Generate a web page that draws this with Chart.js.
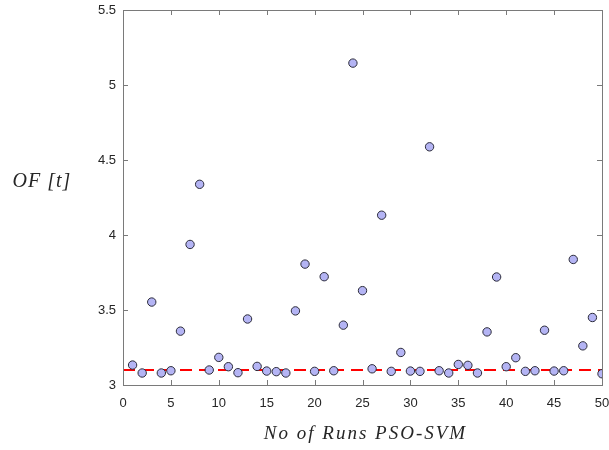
<!DOCTYPE html>
<html>
<head>
<meta charset="utf-8">
<script src="https://cdn.jsdelivr.net/npm/chart.js@4/dist/chart.umd.min.js"></script>
<style>
  html, body { margin: 0; padding: 0; background: #fff; }
  #wrap { width: 609px; height: 450px; }
</style>
</head>
<body>
<div id="wrap"><canvas id="chart" width="609" height="450"></canvas></div>
<script>
/* ── Data ───────────────────────────────────────────────────── */
const runs = [
  1, 2, 3, 4, 5, 6, 7, 8, 9, 10,
  11, 12, 13, 14, 15, 16, 17, 18, 19, 20,
  21, 22, 23, 24, 25, 26, 27, 28, 29, 30,
  31, 32, 33, 34, 35, 36, 37, 38, 39, 40,
  41, 42, 43, 44, 45, 46, 47, 48, 49, 50
];
const ofValues = [
  3.133, 3.080, 3.553, 3.080, 3.095, 3.359, 3.937, 4.338, 3.100, 3.184,
  3.122, 3.082, 3.440, 3.124, 3.093, 3.089, 3.080, 3.494, 3.806, 3.091,
  3.722, 3.095, 3.399, 5.146, 3.629, 3.108, 4.132, 3.091, 3.217, 3.093,
  3.091, 4.588, 3.095, 3.080, 3.137, 3.131, 3.080, 3.354, 3.720, 3.122,
  3.182, 3.091, 3.095, 3.365, 3.093, 3.095, 3.837, 3.261, 3.450, 3.075
];
/* reference level drawn as the red dashed line */
const refLevel = 3.1;
const refRange = [0, 50];

const xTicks = [0, 5, 10, 15, 20, 25, 30, 35, 40, 45, 50];
const yTicks = [3, 3.5, 4, 4.5, 5, 5.5];

const xLabel = "No of Runs PSO-SVM";
const yLabel = "OF [t]";

/* ── Styles ─────────────────────────────────────────────────── */
const AXIS_COLOR = "#7a7a7a";
const TEXT_COLOR = "#262626";
const TICK_FONT = { family: "'Liberation Sans', Arial, sans-serif", size: 13 };
const SERIF = "'Liberation Serif', 'DejaVu Serif', serif";

/* Box around the plot, inward ticks on all four sides, axis labels */
const boxPlugin = {
  id: "box",
  afterDraw(chart) {
    const { ctx, chartArea: a, scales } = chart;
    ctx.save();
    ctx.strokeStyle = AXIS_COLOR;
    ctx.lineWidth = 1;
    ctx.strokeRect(a.left + 0.5, a.top + 0.5, a.right - a.left, a.bottom - a.top);
    ctx.beginPath();
    xTicks.forEach((t) => {
      const px = Math.round(scales.x.getPixelForValue(t)) + 0.5;
      ctx.moveTo(px, a.bottom); ctx.lineTo(px, a.bottom - 5);
      ctx.moveTo(px, a.top);    ctx.lineTo(px, a.top + 5);
    });
    yTicks.forEach((t) => {
      const py = Math.round(scales.y.getPixelForValue(t)) + 0.5;
      ctx.moveTo(a.left, py);  ctx.lineTo(a.left + 5, py);
      ctx.moveTo(a.right, py); ctx.lineTo(a.right - 5, py);
    });
    ctx.stroke();

    /* axis labels, LaTeX-looking italic serif; y label stays horizontal */
    ctx.fillStyle = TEXT_COLOR;
    ctx.textAlign = "center";
    ctx.textBaseline = "middle";
    ctx.font = "italic 20px " + SERIF;
    ctx.letterSpacing = "1px";
    ctx.fillText(yLabel, 42, 182);
    ctx.font = "italic 19px " + SERIF;
    ctx.letterSpacing = "2px";
    ctx.fillText(xLabel, (a.left + a.right) / 2 + 3, 434);
    ctx.restore();
  },
};

new Chart(document.getElementById("chart"), {
  type: "scatter",
  data: {
    datasets: [
      {
        label: "OF",
        data: runs.map((r, i) => ({ x: r, y: ofValues[i] })),
        backgroundColor: "#b4b4f4",
        borderColor: "#2b2b3a",
        borderWidth: 1,
        pointRadius: 4.2,
        order: 1,
      },
      {
        label: "ref",
        type: "line",
        data: refRange.map((x) => ({ x, y: refLevel })),
        borderColor: "#ff0000",
        borderWidth: 2,
        borderDash: [12, 7],
        pointRadius: 0,
        fill: false,
        order: 2,
      },
    ],
  },
  options: {
    responsive: false,
    animation: false,
    layout: { padding: { top: 10, right: 7, left: 0, bottom: 0 } },
    plugins: { legend: { display: false }, tooltip: { enabled: false } },
    scales: {
      x: {
        type: "linear",
        min: 0, max: 50,
        afterBuildTicks: (s) => { s.ticks = xTicks.map((v) => ({ value: v })); },
        afterFit: (s) => { s.height = 65; s.paddingLeft = 0; s.paddingRight = 0; },
        ticks: { color: TEXT_COLOR, font: TICK_FONT, padding: 11, maxRotation: 0,
                 callback: (v) => String(v) },
        grid: { display: false, drawTicks: false },
        border: { display: false },
      },
      y: {
        type: "linear",
        min: 3, max: 5.5,
        afterBuildTicks: (s) => { s.ticks = yTicks.map((v) => ({ value: v })); },
        afterFit: (s) => { s.width = 123; s.paddingTop = 0; s.paddingBottom = 0; },
        ticks: { color: TEXT_COLOR, font: TICK_FONT, padding: 7,
                 callback: (v) => String(v) },
        grid: { display: false, drawTicks: false },
        border: { display: false },
      },
    },
  },
  plugins: [boxPlugin],
});
</script>
</body>
</html>
